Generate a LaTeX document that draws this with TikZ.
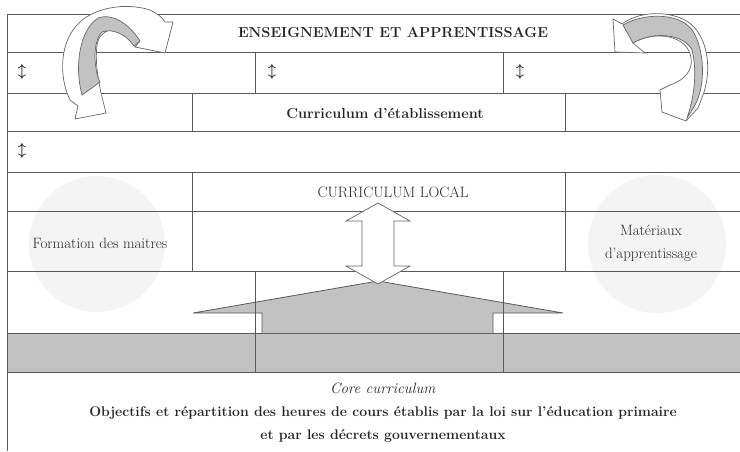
\documentclass[tikz,border=0pt]{standalone}
\definecolor{disc}{gray}{0.955}
\tikzstyle{grid}=[draw=black!65, line width=0.9pt]
\tikzstyle{txt}=[inner sep=0pt, text=black!85, font=\fontsize{15}{23}\selectfont]
\tikzstyle{btxt}=[inner sep=0pt, text=black!85, font=\fontsize{14.5}{18}\selectfont\bfseries]
\tikzstyle{updown}=[inner sep=0pt, text=black!85, font=\fontsize{14}{14}\selectfont\boldmath]
\tikzstyle{ribbon}=[fill=white, draw=black!60, line width=0.7pt]
\tikzstyle{shade}=[fill=black!24, draw=black!60, line width=0.7pt]

\begin{document}
\begin{tikzpicture}[x=1pt, y=-1pt]
  \useasboundingbox (0,0) rectangle (740,451);

  % pale discs behind the side cells
  \fill[disc] (97,244) circle (68);
  \fill[disc] (657,244) circle (69);

  % core curriculum band and its roof
  \fill[black!24] (7,333) rectangle (740,372);
  \foreach \y in {14,52,93,131,172,211,271,333,372}
    \draw[grid] (7,\y) -- (740,\y);
  \draw[grid] (7,14) -- (7,451);
  \fill[black!24] (193,313) -- (378,281) -- (563,313) -- (493,313) -- (493,333)
    -- (262,333) -- (262,313) -- cycle;
  \draw[grid, line width=0.8pt] (262,333) -- (262,313) -- (193,313) -- (378,281)
    -- (563,313) -- (493,313) -- (493,333);

  % cell borders
  \foreach \x in {255,503} {
    \draw[grid] (\x,52) -- (\x,93);
    \draw[grid] (\x,271) -- (\x,372);
  }
  \foreach \x in {192,565} {
    \draw[grid] (\x,93) -- (\x,131);
    \draw[grid] (\x,172) -- (\x,271);
  }

  % double arrow
  \filldraw[ribbon] (378,203) -- (410,221) -- (394,221) -- (394,266) -- (410,266)
    -- (378,284) -- (346,266) -- (362,266) -- (362,221) -- (346,221) -- cycle;

  % curved arrow, left
  \filldraw[ribbon] (70,100) .. controls (58,75) and (60,40) .. (80,22)
    .. controls (95,8) and (125,2) .. (150,10)
    .. controls (158,14) and (163,18) .. (165,22) -- (173,22) -- (165,53)
    -- (135,47) -- (139,42) .. controls (125,25) and (100,25) .. (97,45)
    .. controls (95,62) and (98,78) .. (101,93) -- (106,113) -- (75,119)
    -- (78,106) -- cycle;
  \filldraw[shade] (82,95) .. controls (74,65) and (80,30) .. (98,18)
    .. controls (115,12) and (132,28) .. (140,41) -- (134,46)
    .. controls (126,34) and (112,28) .. (102,32)
    .. controls (92,42) and (94,70) .. (100,82) -- cycle;

  % curved arrow, right
  \filldraw[ribbon] (613,19) -- (615,52) -- (645,53) -- (633,43)
    .. controls (655,30) and (688,35) .. (691,58)
    .. controls (693,70) and (685,80) .. (670,85) -- (660,90) -- (662,112)
    -- (686,121) -- (698,108) -- (703,95) .. controls (712,70) and (708,40) .. (692,25)
    .. controls (675,10) and (640,10) .. (622,24) -- cycle;
  \filldraw[shade] (623,25) .. controls (645,12) and (685,12) .. (695,35)
    .. controls (705,55) and (706,90) .. (692,110) -- (687,118)
    .. controls (695,95) and (697,70) .. (692,50)
    .. controls (685,35) and (655,30) .. (633,43) -- cycle;

  % texts
  \node[btxt] (teaching) at (393,33) {ENSEIGNEMENT ET APPRENTISSAGE};
  \node[updown] (ud1) at (22,72) {$\updownarrow$};
  \node[updown] (ud2) at (272,72) {$\updownarrow$};
  \node[updown] (ud3) at (520,72) {$\updownarrow$};
  \node[updown] (ud4) at (22,151) {$\updownarrow$};
  \node[btxt] (school) at (385,113) {Curriculum d’établissement};
  \node[txt] (local) at (393,192) {CURRICULUM LOCAL};
  \node[txt] (training) at (100,243) {Formation des maitres};
  \node[txt, align=center] (materials) at (651,243) {Matériaux\\d’apprentissage};
  \node[txt, align=center] (core) at (383,413) {\textit{Core curriculum}\\
    \fontsize{14}{23}\selectfont\bfseries Objectifs et répartition des heures de cours établis par la loi sur l’éducation primaire\\
    \fontsize{14}{23}\selectfont\bfseries et par les décrets gouvernementaux};
\end{tikzpicture}
\end{document}
